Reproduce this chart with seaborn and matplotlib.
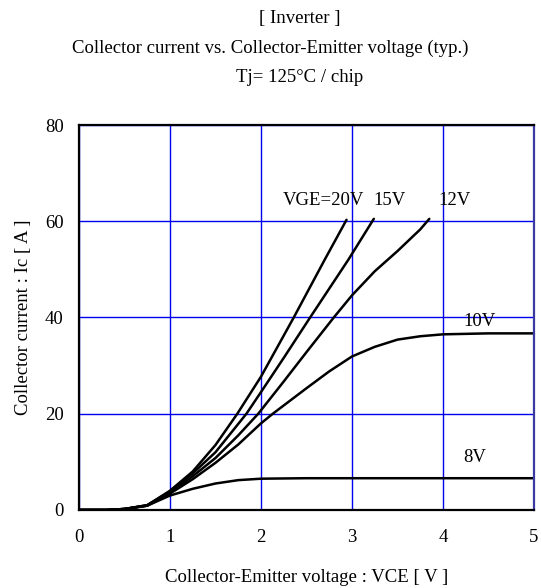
import numpy as np
import pandas as pd
import matplotlib
matplotlib.use("Agg")
import matplotlib.pyplot as plt
from matplotlib.ticker import MultipleLocator
import seaborn as sns

# ---- data ----
vce_20 = [0, 0.3, 0.5, 0.75, 1.0, 1.25, 1.5, 1.74, 2.0, 2.36, 2.7, 2.94]
ic_20 = [0, 0, 0.2, 1.0, 4.0, 8.0, 13.5, 20.0, 27.7, 40.0, 52.0, 60.3]

vce_15 = [0, 0.3, 0.5, 0.75, 1.0, 1.25, 1.5, 1.84, 2.0, 2.25, 2.54, 2.75, 2.96, 3.24]
ic_15 = [0, 0, 0.2, 1.0, 3.8, 7.6, 12.0, 20.0, 24.5, 31.6, 40.0, 46.0, 52.0, 60.5]

vce_12 = [0, 0.3, 0.5, 0.75, 1.0, 1.25, 1.5, 1.75, 1.97, 2.25, 2.5, 2.8, 3.0, 3.25, 3.5, 3.75, 3.85]
ic_12 = [0, 0, 0.2, 0.9, 3.6, 7.0, 10.8, 15.5, 20.0, 26.7, 32.8, 40.0, 44.6, 49.6, 53.8, 58.3, 60.5]

vce_10 = [0, 0.3, 0.5, 0.75, 1.0, 1.25, 1.5, 1.75, 2.0, 2.13, 2.5, 2.75, 3.0, 3.25, 3.5, 3.75, 4.0, 4.5, 5.0]
ic_10 = [0, 0, 0.2, 0.9, 3.4, 6.4, 9.8, 13.6, 18.0, 20.0, 25.3, 28.8, 31.9, 33.9, 35.4, 36.1, 36.5, 36.7, 36.7]

vce_8 = [0, 0.3, 0.5, 0.75, 1.0, 1.25, 1.5, 1.75, 2.0, 2.5, 3.0, 4.0, 5.0]
ic_8 = [0, 0, 0.2, 0.9, 3.0, 4.4, 5.5, 6.2, 6.5, 6.6, 6.6, 6.6, 6.6]

series_names = ["20V", "15V", "12V", "10V", "8V"]
label_texts = ["VGE=20V", "15V", "12V", "10V", "8V"]
label_x = [2.24, 3.24, 3.95, 4.22, 4.22]
label_y = [64.4, 64.4, 64.4, 39.1, 11.0]

x_ticks = [0, 1, 2, 3, 4, 5]
y_ticks = [0, 20, 40, 60, 80]

title_lines = ["[ Inverter ]",
               "Collector current vs. Collector-Emitter voltage (typ.)",
               "Tj= 125\u00b0C / chip"]
x_label = "Collector-Emitter voltage : VCE [ V ]"
y_label = "Collector current : Ic [ A ]"

# ---- build dataframe ----
frames = []
for name, xs, ys in zip(series_names,
                        [vce_20, vce_15, vce_12, vce_10, vce_8],
                        [ic_20, ic_15, ic_12, ic_10, ic_8]):
    frames.append(pd.DataFrame({"VCE": xs, "Ic": ys, "VGE": name}))
df = pd.concat(frames, ignore_index=True)

sns.set_style("white")
plt.rcParams["font.family"] = ["Liberation Serif", "DejaVu Serif"]
plt.rcParams["text.color"] = "black"
plt.rcParams["axes.labelcolor"] = "black"
plt.rcParams["xtick.color"] = "black"
plt.rcParams["ytick.color"] = "black"
FS = 13.5

fig = plt.figure(figsize=(5.41, 5.88), dpi=100)
ax = fig.add_axes([0.146, 0.1327, 0.841, 0.6547])

sns.lineplot(data=df, x="VCE", y="Ic", hue="VGE", units="VGE", estimator=None,
             sort=False, palette=["black"] * 5, linewidth=1.8, legend=False, ax=ax)

ax.set_xlim(0, 5)
ax.set_ylim(0, 80)
ax.set_xticks(x_ticks)
ax.set_yticks(y_ticks)
ax.xaxis.set_minor_locator(MultipleLocator(0.5))
ax.yaxis.set_minor_locator(MultipleLocator(5))
ax.tick_params(axis="both", which="both", direction="in", labelsize=FS,
               colors="black", labelcolor="black", top=False, right=False)
ax.tick_params(which="major", length=5, width=1.2)
ax.tick_params(which="minor", length=5, width=1.0)
ax.tick_params(axis="x", which="major", pad=14)
ax.tick_params(axis="y", which="major", pad=11)

ax.grid(True, which="major", color="#0000ee", linewidth=1.0)
ax.set_axisbelow(True)
for side in ["left", "bottom", "top"]:
    ax.spines[side].set_color("black")
    ax.spines[side].set_linewidth(1.6)
    ax.spines[side].set_visible(True)
ax.spines["right"].set_color("#3a3aa0")
ax.spines["right"].set_linewidth(1.6)
ax.spines["right"].set_visible(True)

for t, lx, ly in zip(label_texts, label_x, label_y):
    ax.text(lx, ly, t, fontsize=FS, ha="left", va="center", color="black")

ax.set_xlabel(x_label, fontsize=FS, labelpad=16, color="black")
ax.set_ylabel(y_label, fontsize=FS, labelpad=9, color="black")

fig.text(300 / 541, 1 - 18 / 588, title_lines[0], ha="center", va="center", fontsize=FS, color="black")
fig.text(270 / 541, 1 - 48 / 588, title_lines[1], ha="center", va="center", fontsize=FS, color="black")
fig.text(300 / 541, 1 - 77 / 588, title_lines[2], ha="center", va="center", fontsize=FS, color="black")

fig.savefig("out.png", dpi=100)
